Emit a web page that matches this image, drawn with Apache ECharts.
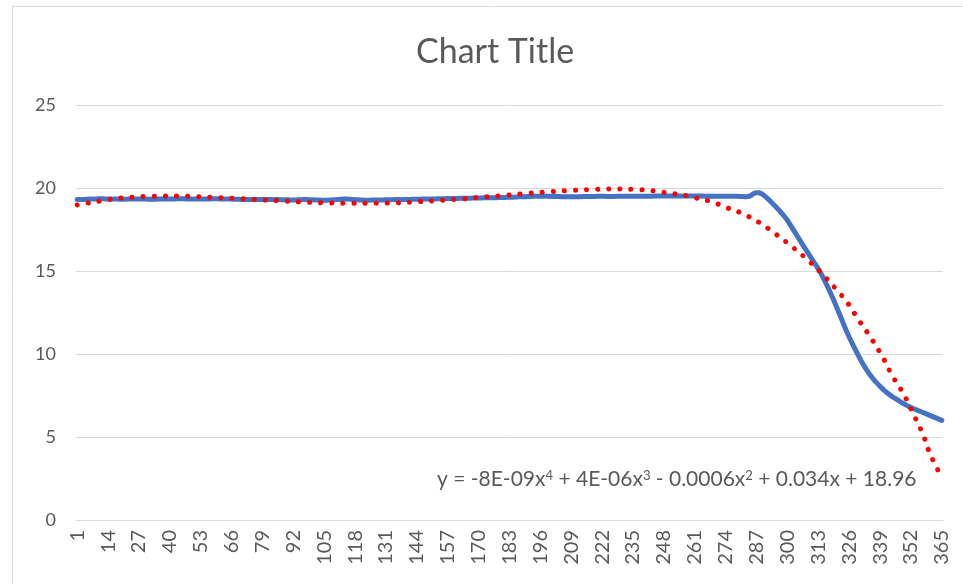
<!DOCTYPE html>
<html>
<head>
<meta charset="utf-8">
<script src="https://cdn.jsdelivr.net/npm/echarts@6/dist/echarts.min.js"></script>
<style>
  html, body { margin: 0; padding: 0; background: #ffffff; }
  #chart { width: 963px; height: 584px; }
</style>
</head>
<body>
<div id="chart"></div>
<script>
// Day numbers 1..365 on the category axis
const days = Array.from({ length: 365 }, (_, i) => String(i + 1));

// Daily measured values, one row per 13 days
const dailyValues = [
  19.30, 19.30, 19.31, 19.31, 19.32, 19.33, 19.33, 19.34, 19.34, 19.35, 19.35, 19.35, 19.34,
  19.34, 19.34, 19.33, 19.33, 19.33, 19.32, 19.32, 19.32, 19.33, 19.33, 19.33, 19.34, 19.34,
  19.34, 19.34, 19.33, 19.33, 19.32, 19.32, 19.32, 19.32, 19.33, 19.33, 19.33, 19.33, 19.34,
  19.34, 19.34, 19.34, 19.35, 19.35, 19.35, 19.35, 19.34, 19.34, 19.34, 19.33, 19.33, 19.33,
  19.33, 19.33, 19.34, 19.34, 19.34, 19.35, 19.35, 19.35, 19.34, 19.34, 19.34, 19.33, 19.33,
  19.33, 19.32, 19.32, 19.32, 19.31, 19.31, 19.31, 19.31, 19.30, 19.30, 19.30, 19.30, 19.30,
  19.30, 19.30, 19.31, 19.31, 19.31, 19.30, 19.30, 19.30, 19.29, 19.29, 19.29, 19.29, 19.28,
  19.28, 19.28, 19.29, 19.29, 19.30, 19.30, 19.30, 19.29, 19.29, 19.28, 19.27, 19.27, 19.26,
  19.26, 19.26, 19.27, 19.28, 19.29, 19.30, 19.31, 19.32, 19.33, 19.33, 19.33, 19.32, 19.31,
  19.30, 19.29, 19.28, 19.27, 19.26, 19.26, 19.26, 19.27, 19.27, 19.28, 19.28, 19.28, 19.28,
  19.29, 19.29, 19.29, 19.30, 19.30, 19.30, 19.30, 19.31, 19.31, 19.31, 19.31, 19.32, 19.32,
  19.32, 19.32, 19.33, 19.33, 19.33, 19.33, 19.34, 19.34, 19.34, 19.35, 19.35, 19.35, 19.36,
  19.36, 19.36, 19.37, 19.37, 19.37, 19.38, 19.38, 19.38, 19.39, 19.39, 19.39, 19.40, 19.40,
  19.40, 19.40, 19.41, 19.41, 19.41, 19.42, 19.42, 19.42, 19.42, 19.43, 19.43, 19.43, 19.44,
  19.44, 19.45, 19.45, 19.46, 19.47, 19.47, 19.48, 19.48, 19.49, 19.49, 19.50, 19.50, 19.50,
  19.50, 19.50, 19.50, 19.50, 19.50, 19.49, 19.49, 19.49, 19.49, 19.48, 19.48, 19.48, 19.48,
  19.48, 19.48, 19.48, 19.48, 19.48, 19.49, 19.49, 19.49, 19.49, 19.49, 19.49, 19.50, 19.50,
  19.50, 19.50, 19.49, 19.49, 19.49, 19.49, 19.50, 19.50, 19.50, 19.50, 19.50, 19.50, 19.50,
  19.50, 19.50, 19.51, 19.51, 19.51, 19.51, 19.51, 19.51, 19.51, 19.52, 19.52, 19.52, 19.52,
  19.52, 19.52, 19.52, 19.52, 19.52, 19.52, 19.52, 19.52, 19.52, 19.52, 19.52, 19.52, 19.52,
  19.52, 19.52, 19.52, 19.52, 19.51, 19.51, 19.51, 19.51, 19.51, 19.51, 19.51, 19.51, 19.51,
  19.51, 19.51, 19.50, 19.50, 19.50, 19.50, 19.49, 19.49, 19.48, 19.48, 19.50, 19.58, 19.67,
  19.72, 19.72, 19.66, 19.57, 19.45, 19.32, 19.18, 19.03, 18.88, 18.73, 18.58, 18.42, 18.24,
  18.05, 17.83, 17.60, 17.37, 17.14, 16.91, 16.68, 16.45, 16.23, 16.01, 15.79, 15.57, 15.35,
  15.13, 14.89, 14.62, 14.33, 14.03, 13.72, 13.40, 13.07, 12.73, 12.38, 12.03, 11.68, 11.34,
  11.02, 10.72, 10.43, 10.15, 9.87, 9.60, 9.35, 9.12, 8.90, 8.70, 8.52, 8.35, 8.20,
  8.05, 7.91, 7.78, 7.66, 7.55, 7.45, 7.35, 7.26, 7.17, 7.08, 7.00, 6.92, 6.85,
  6.78, 6.72, 6.66, 6.60, 6.54, 6.48, 6.42, 6.36, 6.30, 6.24, 6.18, 6.12, 6.06,
  6.00
];

// Polynomial trend line (order 4), sampled at these days
const trendDays = [
  1, 6, 11, 15, 20, 25, 30, 38, 43, 52, 61, 70, 79, 88, 97, 107, 116, 125, 134, 143,
  152, 162, 171, 180, 189, 198, 207, 216, 225, 235, 244, 248, 253, 258, 262, 267, 271,
  275, 280, 288, 295, 302, 309, 316, 322, 325, 330, 335, 340, 344, 349, 353, 357, 360, 365
];
const trendValues = [
  18.98, 19.10, 19.22, 19.32, 19.40, 19.45, 19.49, 19.52, 19.52, 19.48, 19.42, 19.36, 19.28, 19.22, 19.15, 19.10, 19.08, 19.08, 19.10, 19.16,
  19.24, 19.33, 19.44, 19.54, 19.66, 19.75, 19.84, 19.90, 19.94, 19.92, 19.82, 19.74, 19.64, 19.52, 19.38, 19.22, 19.02,
  18.78, 18.53, 17.93, 17.23, 16.46, 15.60, 14.62, 13.66, 13.15, 12.05, 11.00, 9.84, 8.73, 7.57, 6.39, 5.18, 4.00, 2.55
];

// Axis settings
const yMin = 0, yMax = 25, yStep = 5;
const labelEvery = 13;

const equationText =
  'y = -8E-09x{sup|4} + 4E-06x{sup|3} - 0.0006x{sup|2} + 0.034x + 18.96';

const FONT = 'Lato, "Open Sans", sans-serif';
const TEXT = '#595959';
const GRID = '#d9d9d9';

const chart = echarts.init(document.getElementById('chart'), null, { renderer: 'canvas' });

chart.setOption({
  animation: false,
  backgroundColor: '#ffffff',
  textStyle: { fontFamily: FONT },
  title: {
    text: 'Chart Title',
    left: 411,
    top: 30,
    textStyle: { fontFamily: FONT, fontSize: 34, fontWeight: 'normal', color: TEXT }
  },
  grid: { left: 76, right: 20, top: 105, bottom: 64, containLabel: false },
  xAxis: {
    type: 'category',
    data: days,
    boundaryGap: true,
    axisLine: { lineStyle: { color: GRID, width: 1 } },
    axisTick: { show: false },
    axisLabel: {
      interval: labelEvery - 1,
      rotate: 90,
      margin: 10,
      fontFamily: FONT,
      fontSize: 20,
      color: TEXT
    },
    splitLine: { show: false }
  },
  yAxis: {
    type: 'value',
    min: yMin,
    max: yMax,
    interval: yStep,
    axisLine: { show: false },
    axisTick: { show: false },
    axisLabel: { margin: 20, fontFamily: FONT, fontSize: 18, color: TEXT },
    splitLine: { lineStyle: { color: GRID, width: 1 } }
  },
  graphic: [
    {
      type: 'rect',
      silent: true,
      shape: { x: 12.5, y: 6.5, width: 1000, height: 700 },
      style: { fill: 'none', stroke: GRID, lineWidth: 1 },
      z: -1
    },
    {
      type: 'text',
      left: 437,
      top: 469,
      silent: true,
      style: {
        text: equationText,
        fontFamily: FONT,
        fontSize: 21,
        fill: TEXT,
        rich: {
          sup: { fontFamily: FONT, fontSize: 13, verticalAlign: 'top', fill: TEXT }
        }
      }
    }
  ],
  series: [
    {
      name: 'Series1',
      type: 'line',
      data: dailyValues,
      showSymbol: false,
      smooth: false,
      lineStyle: { color: '#4472C4', width: 5, cap: 'round', join: 'round' },
      z: 2
    },
    {
      name: 'Poly. (Series1)',
      type: 'line',
      data: trendDays.map((d, i) => [String(d), trendValues[i]]),
      showSymbol: false,
      smooth: 0.4,
      lineStyle: { color: '#ff0000', width: 5, type: [0.1, 11], cap: 'round' },
      z: 3
    }
  ]
});
</script>
</body>
</html>
